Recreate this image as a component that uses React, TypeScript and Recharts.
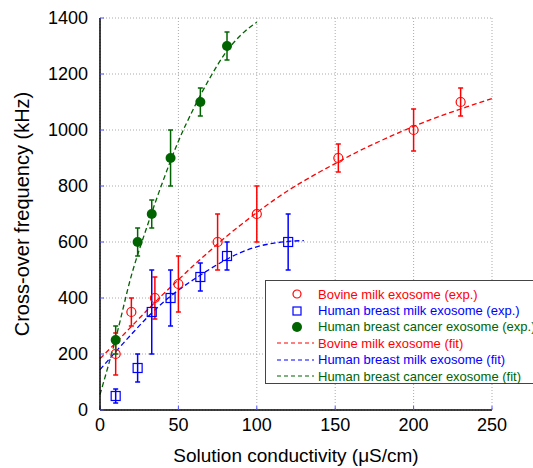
import React from 'react';
import {
  ComposedChart,
  Line,
  Scatter,
  ErrorBar,
  XAxis,
  YAxis,
  CartesianGrid,
  Legend,
} from 'recharts';

// measured points (exp.)
const bovineX = [10, 20, 35, 50, 75, 100, 152, 200, 230];
const bovineY = [200, 350, 400, 450, 600, 700, 900, 1000, 1100];
const bovineErr = [75, 50, 75, 100, 100, 100, 50, 75, 50];

const breastMilkX = [10, 24, 33, 45, 64, 81, 120];
const breastMilkY = [50, 150, 350, 400, 475, 550, 600];
const breastMilkErr = [25, 50, 150, 100, 50, 50, 100];

const cancerX = [10, 24, 33, 45, 64, 81];
const cancerY = [250, 600, 700, 900, 1100, 1300];
const cancerErr = [50, 50, 50, 100, 50, 50];

// fitted curves
const bovineFitX = [0, 10, 20, 30, 40, 50, 60, 70, 80, 90, 100, 110, 120, 130, 140, 150, 160, 170, 180, 190, 200, 210, 220, 230, 240, 250];
const bovineFitY = [183, 240, 298, 356, 412, 465, 518, 568, 617, 662, 705, 746, 784, 818, 850, 880, 910, 938, 964, 989, 1013, 1035, 1056, 1075, 1094, 1112];

const breastMilkFitX = [0, 10, 20, 30, 40, 50, 60, 70, 80, 90, 100, 110, 120, 130];
const breastMilkFitY = [144, 208, 270, 330, 383, 428, 467, 503, 536, 563, 583, 595, 602, 605];

const cancerFitX = [0, 10, 20, 30, 40, 50, 60, 70, 80, 90, 100];
const cancerFitY = [55, 255, 480, 655, 815, 960, 1080, 1185, 1275, 1340, 1385];

const xTicks = [0, 50, 100, 150, 200, 250];
const yTicks = [0, 200, 400, 600, 800, 1000, 1200, 1400];

const RED = '#ff0000';
const BLUE = '#0000ff';
const GREEN = '#006400';
const TICK_BLUE = '#5050ff';
const FONT = 'Arial, "Liberation Sans", sans-serif';

const toPoints = (xs: number[], ys: number[], errs?: number[]) =>
  xs.map((x, i) => ({ x, y: ys[i], err: errs ? errs[i] : 0 }));

const bovineData = toPoints(bovineX, bovineY, bovineErr);
const breastMilkData = toPoints(breastMilkX, breastMilkY, breastMilkErr);
const cancerData = toPoints(cancerX, cancerY, cancerErr);
const bovineFit = toPoints(bovineFitX, bovineFitY);
const breastMilkFit = toPoints(breastMilkFitX, breastMilkFitY);
const cancerFit = toPoints(cancerFitX, cancerFitY);

const OpenCircle = (props: any) => (
  <circle cx={props.cx} cy={props.cy} r={4.5} fill="none" stroke={RED} strokeWidth={1.2} />
);
const OpenSquare = (props: any) => (
  <rect x={props.cx - 4.5} y={props.cy - 4.5} width={9} height={9} fill="none" stroke={BLUE} strokeWidth={1.2} />
);
const FilledCircle = (props: any) => <circle cx={props.cx} cy={props.cy} r={5} fill={GREEN} />;

const legendRows = [
  { label: 'Bovine milk exosome (exp.)', color: RED, kind: 'circle' },
  { label: 'Human breast milk exosome (exp.)', color: BLUE, kind: 'square' },
  { label: 'Human breast cancer exosome (exp.)', color: GREEN, kind: 'dot' },
  { label: 'Bovine milk exosome (fit)', color: RED, kind: 'line' },
  { label: 'Human breast milk exosome (fit)', color: BLUE, kind: 'line' },
  { label: 'Human breast cancer exosome (fit)', color: GREEN, kind: 'line' },
];

const renderLegend = () => (
  <div
    style={{
      width: 290,
      height: 104,
      border: '1.5px solid #444',
      background: '#fff',
      paddingTop: 5,
      boxSizing: 'border-box',
      fontFamily: FONT,
      fontSize: 13,
    }}
  >
    {legendRows.map((row) => (
      <div key={row.label} style={{ display: 'flex', alignItems: 'center', height: 16.4 }}>
        <svg width={50} height={14} style={{ flex: 'none' }}>
          {row.kind === 'circle' && <circle cx={31} cy={7} r={4} fill="none" stroke={row.color} strokeWidth={1.2} />}
          {row.kind === 'square' && <rect x={27} y={3} width={8} height={8} fill="none" stroke={row.color} strokeWidth={1.2} />}
          {row.kind === 'dot' && <circle cx={31} cy={7} r={5} fill={row.color} />}
          {row.kind === 'line' && (
            <line x1={11} y1={7} x2={48} y2={7} stroke={row.color} strokeWidth={1.2} strokeDasharray="4 3" />
          )}
        </svg>
        <span style={{ color: row.color, marginLeft: 2, whiteSpace: 'nowrap' }}>{row.label}</span>
      </div>
    ))}
  </div>
);

const App = () => {
  return (
    <div style={{ position: 'absolute', left: 0, top: 0, width: 533, height: 468, overflow: 'hidden', background: '#fff' }}>
      <ComposedChart width={533} height={468} margin={{ top: 18, right: 41, bottom: 0, left: 0 }}>
        <CartesianGrid stroke="#aaa" strokeDasharray="1 2" />
        <XAxis
          dataKey="x"
          type="number"
          domain={[0, 250]}
          ticks={xTicks}
          height={58}
          axisLine={{ stroke: '#000', strokeWidth: 1.5 }}
          tickLine={{ stroke: TICK_BLUE }}
          tickSize={-4}
          tickMargin={12}
          tick={{ fill: '#000', fontSize: 18, fontFamily: FONT }}
          label={{
            content: (p: any) => (
              <text
                x={p.viewBox.x + p.viewBox.width / 2}
                y={p.viewBox.y + 52}
                textAnchor="middle"
                fontSize={19}
                fontFamily={FONT}
                fill="#000"
              >
                Solution conductivity (μS/cm)
              </text>
            ),
          }}
        />
        <XAxis
          xAxisId="top"
          orientation="top"
          type="number"
          domain={[0, 250]}
          ticks={xTicks}
          height={0}
          axisLine={{ stroke: '#000', strokeWidth: 1.5 }}
          tickLine={{ stroke: TICK_BLUE }}
          tickSize={-4}
          tick={false}
        />
        <YAxis
          dataKey="y"
          type="number"
          domain={[0, 1400]}
          ticks={yTicks}
          width={100}
          axisLine={{ stroke: '#000', strokeWidth: 1.5 }}
          tickLine={{ stroke: TICK_BLUE }}
          tickSize={-4}
          tickMargin={16}
          tick={{ fill: '#000', fontSize: 18, fontFamily: FONT }}
          label={{
            content: (p: any) => {
              const cx = p.viewBox.x + 29;
              const cy = p.viewBox.y + p.viewBox.height / 2;
              return (
                <text
                  x={cx}
                  y={cy}
                  transform={`rotate(-90 ${cx} ${cy})`}
                  textAnchor="middle"
                  fontSize={20}
                  fontFamily={FONT}
                  fill="#000"
                >
                  Cross-over frequency (kHz)
                </text>
              );
            },
          }}
        />
        <YAxis
          yAxisId="right"
          orientation="right"
          type="number"
          domain={[0, 1400]}
          ticks={yTicks}
          width={0}
          axisLine={{ stroke: '#000', strokeWidth: 1.5 }}
          tickLine={{ stroke: TICK_BLUE }}
          tickSize={-4}
          tick={false}
        />
        <Legend
          verticalAlign="middle"
          layout="horizontal"
          content={renderLegend}
          wrapperStyle={{ left: 265, top: 280, width: 290 }}
        />

        <Line data={bovineFit} dataKey="y" type="monotone" stroke={RED} strokeWidth={1.3} strokeDasharray="5 3" dot={false} isAnimationActive={false} legendType="none" />
        <Line data={breastMilkFit} dataKey="y" type="monotone" stroke={BLUE} strokeWidth={1.3} strokeDasharray="5 3" dot={false} isAnimationActive={false} legendType="none" />
        <Line data={cancerFit} dataKey="y" type="monotone" stroke={GREEN} strokeWidth={1.3} strokeDasharray="5 3" dot={false} isAnimationActive={false} legendType="none" />

        <Scatter data={bovineData} dataKey="y" shape={OpenCircle} isAnimationActive={false}>
          <ErrorBar dataKey="err" direction="y" width={2.5} stroke={RED} strokeWidth={1.5} />
        </Scatter>
        <Scatter data={breastMilkData} dataKey="y" shape={OpenSquare} isAnimationActive={false}>
          <ErrorBar dataKey="err" direction="y" width={2.5} stroke={BLUE} strokeWidth={1.5} />
        </Scatter>
        <Scatter data={cancerData} dataKey="y" shape={FilledCircle} isAnimationActive={false}>
          <ErrorBar dataKey="err" direction="y" width={2.5} stroke={GREEN} strokeWidth={1.5} />
        </Scatter>
      </ComposedChart>
    </div>
  );
};

export default App;
